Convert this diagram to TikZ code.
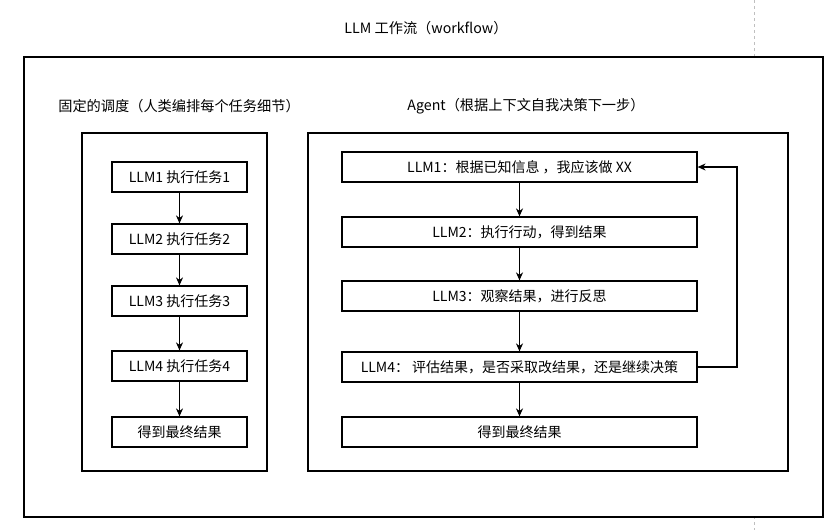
\documentclass[tikz,border=0pt]{standalone}
\usepackage{fontspec}
\setmainfont{Noto Sans CJK SC}
\usetikzlibrary{arrows.meta}
\begin{document}
\begin{tikzpicture}[x=1pt,y=-1pt,
  frame/.style={draw=black,line width=1.3pt},
  taskbox/.style={draw=black,line width=1.2pt,minimum height=30pt,inner sep=0pt,font=\fontsize{14}{16}\selectfont},
  lbl/.style={font=\fontsize{14.2}{16}\selectfont,inner sep=0pt},
  flow/.style={draw=black,line width=1.4pt,-{Stealth[length=8pt,width=7pt]}}]
\useasboundingbox (0,0) rectangle (840,530);
\fill[white] (0,0) rectangle (840,530);
\draw[gray!50,dashed,line width=0.9pt] (754,0) -- (754,530);
\draw[frame,fill=white] (24,57) rectangle (823,517);
\node[lbl] (title) at (426,28) {LLM 工作流（workflow）};
% left panel
\draw[frame] (82,133) rectangle (267,471);
\node[lbl] (ltitle) at (179,106) {固定的调度（人类编排每个任务细节）};
\node[taskbox,minimum width=135pt] (l1) at (179.5,177) {LLM1 执行任务1};
\node[taskbox,minimum width=135pt] (l2) at (179.5,239) {LLM2 执行任务2};
\node[taskbox,minimum width=135pt] (l3) at (179.5,301) {LLM3 执行任务3};
\node[taskbox,minimum width=135pt] (l4) at (179.5,366) {LLM4 执行任务4};
\node[taskbox,minimum width=135pt] (l5) at (179.5,432) {得到最终结果};
\draw[flow] (l1) -- (l2);
\draw[flow] (l2) -- (l3);
\draw[flow] (l3) -- (l4);
\draw[flow] (l4) -- (l5);
% right panel
\draw[frame] (308,133) rectangle (788,471);
\node[lbl] (rtitle) at (526,106) {Agent（根据上下文自我决策下一步）};
\node[taskbox,minimum width=355pt] (a1) at (519.5,167) {LLM1：根据已知信息 ，我应该做 XX};
\node[taskbox,minimum width=355pt] (a2) at (519.5,232) {LLM2：执行行动，得到结果};
\node[taskbox,minimum width=355pt] (a3) at (519.5,296) {LLM3：观察结果，进行反思};
\node[taskbox,minimum width=355pt] (a4) at (519.5,367) {LLM4： 评估结果，是否采取改结果，还是继续决策};
\node[taskbox,minimum width=355pt] (a5) at (519.5,432) {得到最终结果};
\draw[flow] (a1) -- (a2);
\draw[flow] (a2) -- (a3);
\draw[flow] (a3) -- (a4);
\draw[flow] (a4) -- (a5);
\coordinate (lb) at (737,367);
\coordinate (lt) at (737,167);
\draw[flow,line width=1.2pt] (a4.east) -- (lb) -- (lt) -- (a1.east);
\end{tikzpicture}
\end{document}
